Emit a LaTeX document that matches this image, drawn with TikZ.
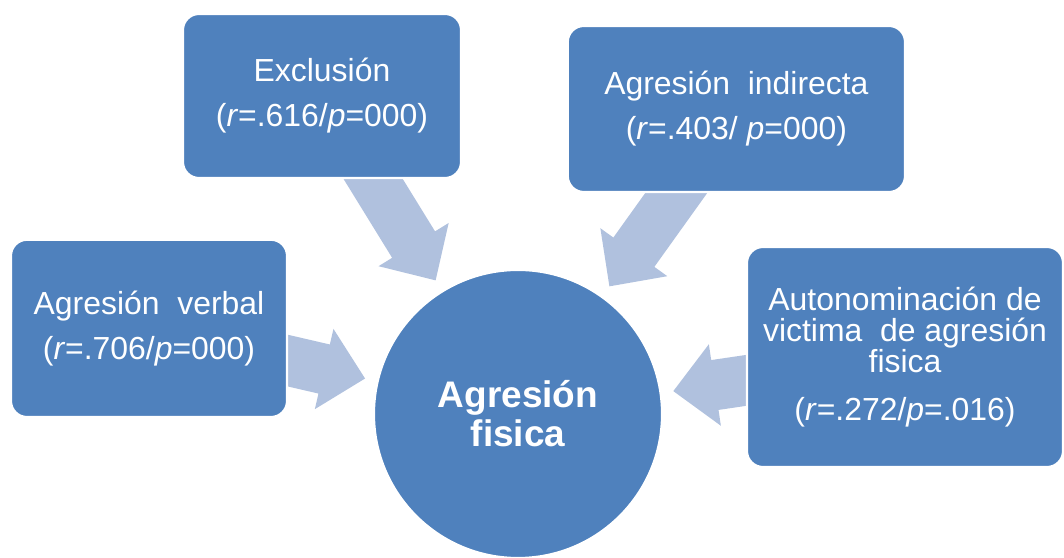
\documentclass[tikz,border=0pt]{standalone}
\usepackage{fontspec}
\setmainfont{Liberation Sans}
\usepackage{tikz}
\definecolor{boxblue}{RGB}{79, 129, 189}
\definecolor{arrowblue}{RGB}{176, 193, 222}
\usetikzlibrary{calc}
\pgfdeclarelayer{back}
\pgfsetlayers{back,main}
% Blockpfeil von #1 (Kreis) Richtung #2 (Kasten)
\newcommand{\blockarrow}[2]{%
	\coordinate (#2-tip) at ($(#1.center)!3.925cm!(#2.center)$);
	\coordinate (#2-head) at ($(#1.center)!4.975cm!(#2.center)$);
	\coordinate (#2-tail) at ($(#1.center)!7.5cm!(#2.center)$);
	\fill[arrowblue] (#2-tip) -- ($(#2-head)!1.03cm!90:(#2-tip)$) -- ($(#2-head)!0.63cm!90:(#2-tip)$)
		-- ($(#2-tail)!0.63cm!90:(#2-tip)$) -- ($(#2-tail)!0.63cm!-90:(#2-tip)$)
		-- ($(#2-head)!0.63cm!-90:(#2-tip)$) -- ($(#2-head)!1.03cm!-90:(#2-tip)$) -- cycle;
}

\begin{document}
\begin{tikzpicture}[x=1cm, y=1cm,
		box/.style={rectangle, rounded corners=0.4cm, fill=boxblue, draw=white, line width=1.5pt,
			text=white, align=center, inner sep=0pt, font=\fontsize{22.7}{22}\selectfont},
		hubcircle/.style={circle, fill=boxblue, draw=white, line width=1.5pt, minimum size=7.2cm,
			text=white, align=center, inner sep=0pt, font=\fontsize{26.3}{27.7}\selectfont\bfseries}]
	\useasboundingbox (0,0) rectangle (26.6,13.95);
	% Kaesten
	\node[box, minimum width=6.95cm, minimum height=4.1cm] (ex) at (8.05,11.55)
		{Exclusión\\[10pt](\textit{r}=.616/\textit{p}=000)};
	\node[box, minimum width=8.43cm, minimum height=4.15cm] (ind) at (18.41,11.225)
		{Agresión\ \ indirecta\\[10pt](\textit{r}=.403/ \textit{p}=000)};
	\node[box, minimum width=6.9cm, minimum height=4.43cm] (verb) at (3.725,5.74)
		{Agresión\ \ verbal\\[10pt](\textit{r}=.706/\textit{p}=000)};
	\node[box, minimum width=7.9cm, minimum height=5.5cm] (auto) at (22.625,5.025)
		{Autonominación de\\victima\ \ de agresión\\fisica\\[12pt](\textit{r}=.272/\textit{p}=.016)};
	% Kreis in der Mitte
	\node[hubcircle] (hub) at (12.95,3.6) {Agresión\\fisica};
	% Pfeile
	\begin{pgfonlayer}{back}
		\blockarrow{hub}{ex}
		\blockarrow{hub}{ind}
		\blockarrow{hub}{verb}
		\blockarrow{hub}{auto}
	\end{pgfonlayer}
\end{tikzpicture}
\end{document}
